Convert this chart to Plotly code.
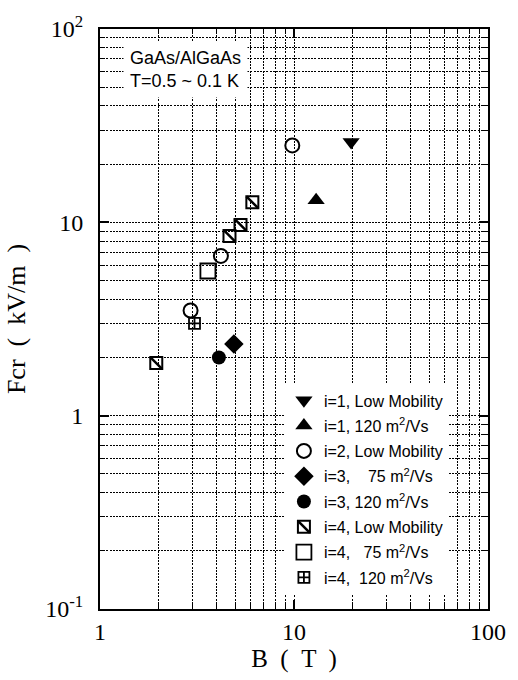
import plotly.graph_objects as go

# ---- data (B in T, Fcr in kV/m) ----
i1_low_x = [19.7]
i1_low_y = [26.0]
i1_120_x = [13.0]
i1_120_y = [13.0]
i2_low_x = [9.8, 4.2, 2.93]
i2_low_y = [25.0, 6.7, 3.5]
i3_75_x = [4.9]
i3_75_y = [2.35]
i3_120_x = [4.1]
i3_120_y = [2.0]
i4_low_x = [1.95, 4.65, 5.3, 6.1]
i4_low_y = [1.87, 8.5, 9.7, 12.7]
i4_75_x = [3.6]
i4_75_y = [5.6]
i4_120_x = [3.07]
i4_120_y = [3.0]

names = [
    "i=1, Low Mobility",
    "i=1, 120 m<sup>2</sup>/Vs",
    "i=2, Low Mobility",
    "i=3, \u00a0\u00a0\u00a075 m<sup>2</sup>/Vs",
    "i=3, 120 m<sup>2</sup>/Vs",
    "i=4, Low Mobility",
    "i=4, \u00a0\u00a075 m<sup>2</sup>/Vs",
    "i=4, \u00a0120 m<sup>2</sup>/Vs",
]

x_major = [1, 10, 100]
x_major_text = ["1", "10", "100"]
y_major = [0.1, 1, 10, 100]
y_major_text = ["10<sup>-1</sup>", "1", "10", "10<sup>2</sup>"]
minor_vals = [m * d for d in (0.1, 1, 10) for m in range(2, 10)]

BLACK = "black"
series = [
    (i1_low_x, i1_low_y, dict(symbol="triangle-down", size=15, color=BLACK)),
    (i1_120_x, i1_120_y, dict(symbol="triangle-up", size=15, color=BLACK)),
    (i2_low_x, i2_low_y, dict(symbol="circle-open", size=14, color=BLACK, line=dict(width=2, color=BLACK))),
    (i3_75_x, i3_75_y, dict(symbol="diamond", size=15, color=BLACK)),
    (i3_120_x, i3_120_y, dict(symbol="circle", size=14, color=BLACK)),
    (i4_low_x, i4_low_y, dict(symbol="square-open", size=12, color=BLACK, line=dict(width=2, color=BLACK))),
    (i4_75_x, i4_75_y, dict(symbol="square-open", size=15, color=BLACK, line=dict(width=1.8, color=BLACK))),
    (i4_120_x, i4_120_y, dict(symbol="square-cross-open", size=11, color=BLACK, line=dict(width=1.8, color=BLACK))),
]

fig = go.Figure()
for k, (xs, ys, mk) in enumerate(series):
    fig.add_trace(go.Scatter(x=xs, y=ys, mode="markers", name=names[k], marker=mk,
                             legend="legend", legendgroup="g%d" % k))

# overlay legend (legend2) carrying only the diagonal of the hatched square
TRANSP = "rgba(0,0,0,0)"
for k in range(len(series)):
    if k == 5:
        fig.add_trace(go.Scatter(
            x=i4_low_x, y=i4_low_y, mode="markers", name="\u00a0",
            marker=dict(symbol="line-nw", size=12, color=BLACK, line=dict(width=2.5, color=BLACK)),
            legend="legend2", legendgroup="h%d" % k))
    else:
        fig.add_trace(go.Scatter(
            x=[None], y=[None], mode="markers", name="\u00a0",
            marker=dict(symbol="circle", size=10, color=TRANSP, line=dict(width=0, color=TRANSP)),
            legend="legend2", legendgroup="h%d" % k))

leg_common = dict(x=0.474, y=0.389, xanchor="left", yanchor="top",
                  font=dict(family="Liberation Sans, Arial, sans-serif", size=16, color=BLACK),
                  tracegroupgap=1.5, borderwidth=0)

grid_dash = "2px,1.2px"
axis_common = dict(
    type="log", showline=True, linewidth=2, linecolor=BLACK, mirror="ticks",
    ticks="inside", ticklen=9, tickwidth=1.5, tickcolor=BLACK,
    showgrid=True, gridcolor=BLACK, gridwidth=1, griddash=grid_dash,
    zeroline=False,
    tickfont=dict(family="Liberation Serif, Times New Roman, serif", size=24, color=BLACK),
    minor=dict(tickvals=minor_vals, ticks="inside", ticklen=5, tickwidth=1, tickcolor=BLACK,
               showgrid=True, gridcolor=BLACK, gridwidth=1, griddash=grid_dash),
)

fig.update_layout(
    width=518, height=680,
    margin=dict(l=100, r=28, t=22, b=69),
    paper_bgcolor="white", plot_bgcolor="white",
    xaxis=dict(axis_common, range=[0, 2], tickvals=x_major, ticktext=x_major_text,
               title=dict(text="B \u00a0( \u00a0T \u00a0)", standoff=6,
                          font=dict(family="Liberation Serif, Times New Roman, serif", size=25, color=BLACK))),
    yaxis=dict(axis_common, range=[-1, 2], tickvals=y_major, ticktext=y_major_text,
               ticklabelstandoff=10,
               title=dict(text="Fcr \u00a0( \u00a0kV/m \u00a0)", standoff=12,
                          font=dict(family="Liberation Serif, Times New Roman, serif", size=26, color=BLACK))),
    legend=dict(leg_common, bgcolor="white"),
    legend2=dict(leg_common, bgcolor=TRANSP),
    showlegend=True,
    annotations=[dict(
        text="GaAs/AlGaAs<br>T=0.5 ~ 0.1 K", xref="paper", yref="paper",
        x=0.06, y=0.98, xanchor="left", yanchor="top", align="left", showarrow=False,
        bgcolor="white", borderpad=6,
        font=dict(family="Liberation Sans, Arial, sans-serif", size=18, color=BLACK))],
)

fig.write_html("out.html")
